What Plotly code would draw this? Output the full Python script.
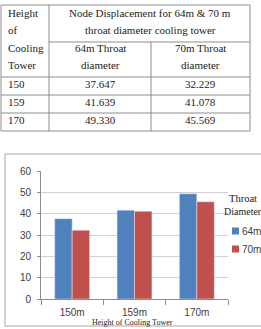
import plotly.graph_objects as go

heights = ["150", "159", "170"]
d64 = [37.647, 41.639, 49.330]
d70 = [32.229, 41.078, 45.569]
series_names = ["64m", "70m"]
colors = ["#4F81BD", "#C0504D"]
categories = [h + "m" for h in heights]

W, H = 261, 329
def px(x): return x / W
def py(y): return 1 - y / H

SERIF = "Liberation Serif"
SANS = "Liberation Sans"
fig = go.Figure()
fig.add_trace(go.Bar(x=categories, y=d64, name=series_names[0], marker_color=colors[0]))
fig.add_trace(go.Bar(x=categories, y=d70, name=series_names[1], marker_color=colors[1]))

shapes = []
annots = []
gray = "#8c8c8c"
def hline(x0, x1, y):
    shapes.append(dict(type="line", xref="paper", yref="paper", x0=px(x0), x1=px(x1), y0=py(y), y1=py(y), line=dict(color=gray, width=1)))
def vline(x, y0, y1):
    shapes.append(dict(type="line", xref="paper", yref="paper", x0=px(x), x1=px(x), y0=py(y0), y1=py(y1), line=dict(color=gray, width=1)))

for y in [5, 77, 95, 113, 131]:
    hline(1, 250, y)
hline(49, 250, 42)
vline(1, 5, 131); vline(49, 5, 131); vline(250, 5, 131); vline(151, 42, 131)

def txt(t, x, y, anchor="center", size=11, font=SERIF, color="#222"):
    annots.append(dict(text=t, xref="paper", yref="paper", x=px(x), y=py(y), xanchor=anchor, yanchor="middle", showarrow=False, font=dict(family=font, size=size, color=color)))

for t, y in zip(["Height", "of", "Cooling", "Tower"], [13, 30, 48, 65]):
    txt(t, 6, y, anchor="left")
txt("Node Displacement for 64m &amp; 70 m", 150, 13)
txt("throat diameter cooling tower", 150, 30)
txt("64m Throat", 100, 48)
txt("diameter", 100, 65)
txt("70m Throat", 200, 48)
txt("diameter", 200, 65)
for i, h in enumerate(heights):
    y = 84 + 18 * i
    txt(h, 6, y, anchor="left")
    txt(f"{d64[i]:.3f}", 100, y)
    txt(f"{d70[i]:.3f}", 200, y)

# chart frame
shapes.append(dict(type="rect", xref="paper", yref="paper", x0=px(5), x1=px(265), y0=py(154), y1=py(326), line=dict(color="#a6a6a6", width=1)))
txt("Height of Cooling Tower", 132, 322, size=8)

# legend (drawn manually to fit the narrow space)
txt("Throat", 227, 198, anchor="left", size=10.5)
txt("Diameter", 222, 211, anchor="left", size=10)
for i, (name, c) in enumerate(zip(series_names, colors)):
    y = 231 + 18 * i
    shapes.append(dict(type="rect", xref="paper", yref="paper", x0=px(232), x1=px(239), y0=py(y + 3.5), y1=py(y - 3.5), line=dict(width=0), fillcolor=c))
    txt(name, 240, y, anchor="left", size=10, font=SANS, color="#404040")

fig.update_layout(
    width=W, height=H, margin=dict(l=0, r=0, t=0, b=0, autoexpand=False),
    paper_bgcolor="white", plot_bgcolor="white",
    barmode="group", bargap=0.44, bargroupgap=0,
    shapes=shapes, annotations=annots, showlegend=False,
    xaxis=dict(domain=[px(41), px(228)], showline=True, linecolor="#8c8c8c", ticks="outside", tickson="boundaries",
               ticklen=5, tickcolor="#8c8c8c", ticklabelstandoff=4,
               tickfont=dict(family=SANS, size=10, color="#404040"), showgrid=False, anchor="y"),
    yaxis=dict(domain=[py(299), py(171)], range=[0, 60], dtick=10, showline=True, linecolor="#8c8c8c", ticks="outside",
               ticklen=3, tickcolor="#8c8c8c", gridcolor="#d0d0d0", ticklabelstandoff=4,
               tickfont=dict(family=SANS, size=10, color="#404040")),
)
fig.write_html("out.html")
